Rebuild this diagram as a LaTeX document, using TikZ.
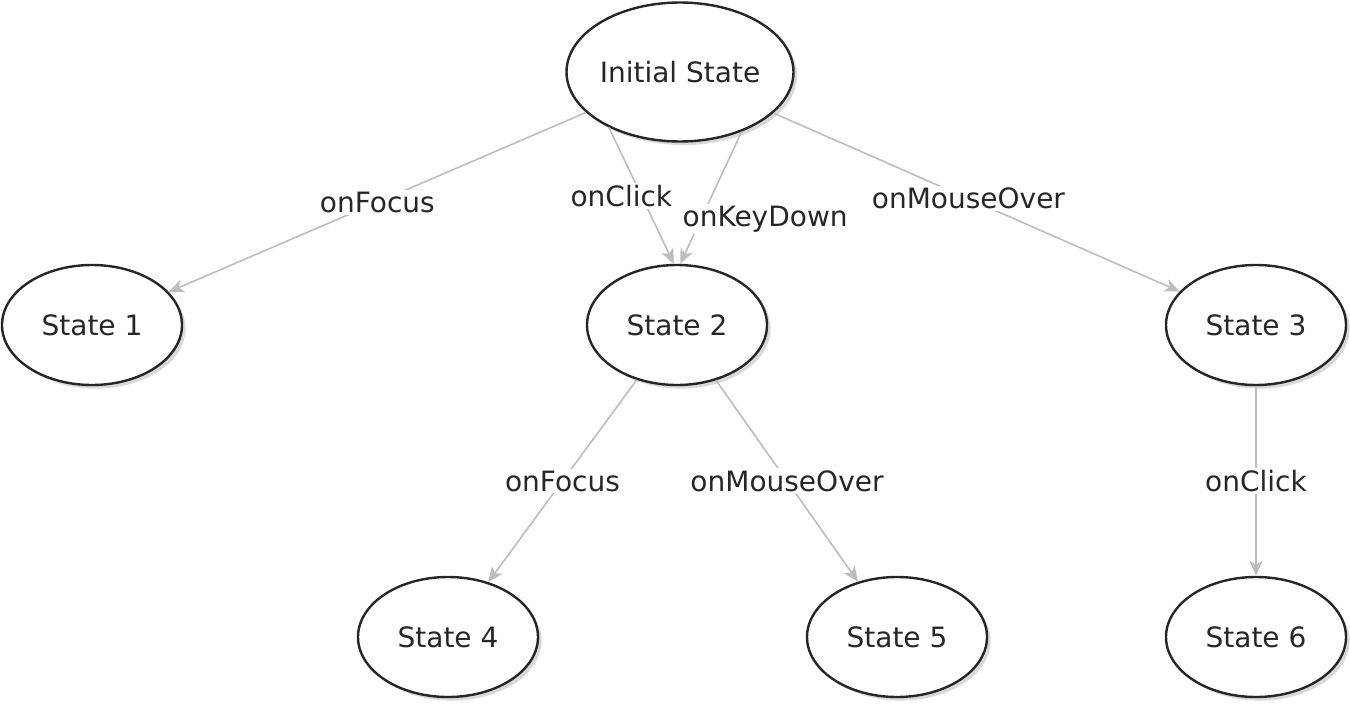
\documentclass[tikz,border=0pt]{standalone}
\usepackage{fontspec}
\setmainfont{DejaVu Sans}
\usepackage{tikz}
\usetikzlibrary{shapes.geometric,arrows.meta,shadows}
\definecolor{ink}{HTML}{262626}
\definecolor{wire}{HTML}{BDBDBD}

\begin{document}
\begin{tikzpicture}[x=0.5pt,y=-0.5pt,
    state/.style={ellipse,draw=ink,line width=1.2pt,fill=white,inner sep=0pt,minimum width=90pt,minimum height=60pt,text=ink,font=\fontsize{14}{16}\selectfont,drop shadow={shadow xshift=1.8pt,shadow yshift=-1.8pt,opacity=0.3}},
    trans/.style={draw=wire,line width=0.8pt,-{Stealth[length=7.5pt,width=6.5pt,inset=2pt]}},
    evt/.style={fill=white,inner sep=1pt,text=ink,font=\fontsize{14}{16}\selectfont}]
    \useasboundingbox (0,0) rectangle (1350,706);
    \node[state,minimum width=110pt,minimum height=69.5pt] (init) at (680,72) {Initial State};
    \node[state] (s1) at (92,325) {State 1};
    \node[state] (s2) at (677,325) {State 2};
    \node[state] (s3) at (1256,325) {State 3};
    \node[state] (s4) at (448,637) {State 4};
    \node[state] (s5) at (897,637) {State 5};
    \node[state] (s6) at (1256,637) {State 6};
    \draw[trans] (init) -- node[evt,pos=0.5] {onFocus} (s1);
    \draw[trans] (init.218) -- node[evt,pos=0.5,xshift=-10pt] {onClick} (s2.93);
    \draw[trans] (init.316) -- node[evt,pos=0.66,xshift=32pt] {onKeyDown} (s2.87);
    \draw[trans] (init) -- node[evt,pos=0.48] {onMouseOver} (s3);
    \draw[trans] (s2) -- node[evt,pos=0.5] {onFocus} (s4);
    \draw[trans] (s2) -- node[evt,pos=0.5] {onMouseOver} (s5);
    \draw[trans] (s3) -- node[evt,pos=0.5] {onClick} (s6);
  \end{tikzpicture}
\end{document}
